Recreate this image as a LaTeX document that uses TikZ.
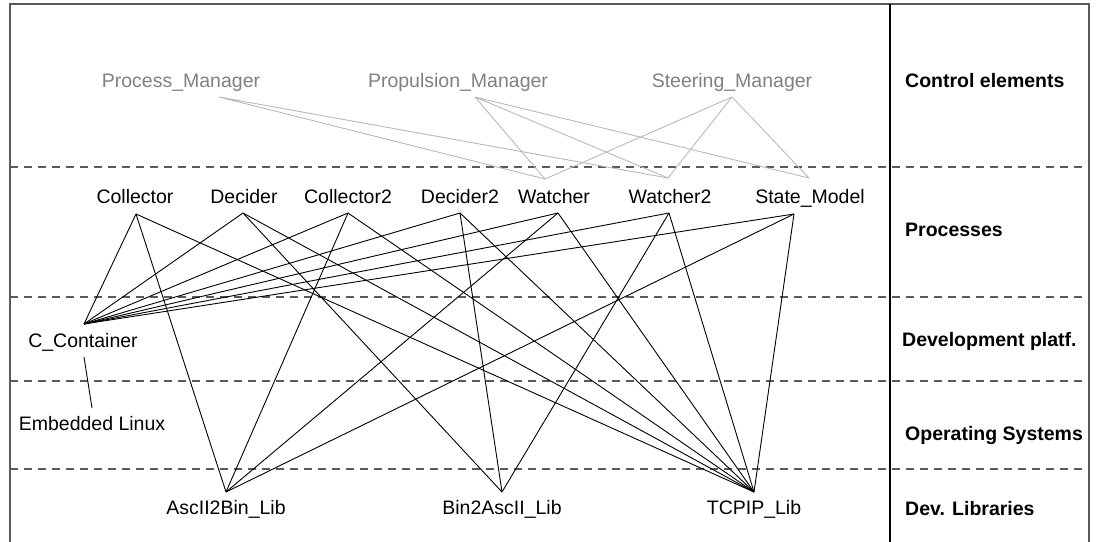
\documentclass[tikz,border=0pt]{standalone}
\usepackage{fontspec}
\setmainfont{Liberation Sans}
\begin{document}
\begin{tikzpicture}[x=1pt,y=-1pt,
  lbl/.style={inner sep=0pt,anchor=base,font=\fontsize{19.5}{23}\selectfont},
  ctl/.style={lbl,text={rgb,255:red,128;green,128;blue,128}},
  lay/.style={inner sep=0pt,anchor=base west,font=\fontsize{19.5}{23}\selectfont\bfseries},
  sep/.style={draw={rgb,255:red,90;green,90;blue,90},line width=1.3pt,dash pattern=on 8pt off 6pt},
  frm/.style={draw={rgb,255:red,90;green,90;blue,90},line width=1.6pt},
  gl/.style={draw={rgb,255:red,185;green,185;blue,185},line width=0.9pt},
  bl/.style={draw=black,line width=0.9pt}]
\useasboundingbox (0,0) rectangle (1098,541);
% frame
\draw[frm] (10,545) -- (10,4) -- (1089,4) -- (1089,545);
\draw[draw=black,line width=1.2pt] (890,4) -- (890,545);
% layer separators
\foreach \yy in {167,297,381,469} \draw[sep] (10,\yy) -- (1089,\yy);
% layer labels
\node[lay] (lc) at (905,87) {Control elements};
\node[lay] (lp) at (905,236) {Processes};
\node[lay] (ld) at (902,346) {Development platf.};
\node[lay] (lo) at (905,440) {Operating Systems};
\node[lay] (ll) at (905,515) {Dev. Libraries};
% control elements
\node[ctl] (pm) at (181,87) {Process\_Manager};
\node[ctl] (prm) at (458,87) {Propulsion\_Manager};
\node[ctl] (sm) at (732,87) {Steering\_Manager};
\coordinate (pmB) at (219,97);
\coordinate (prmB) at (475,97);
\coordinate (smB) at (732,97);
% processes
\node[lbl] (col) at (135,203) {Collector};
\node[lbl] (dec) at (244,203) {Decider};
\node[lbl] (col2) at (348,203) {Collector2};
\node[lbl] (dec2) at (460,203) {Decider2};
\node[lbl] (wat) at (554,203) {Watcher};
\node[lbl] (wat2) at (670,203) {Watcher2};
\node[lbl] (stm) at (810,203) {State\_Model};
\coordinate (colB) at (136,214);
\coordinate (decB) at (243,213);
\coordinate (col2B) at (348,213);
\coordinate (dec2B) at (460,213);
\coordinate (watB) at (558,213);
\coordinate (wat2B) at (669,213);
\coordinate (stmB) at (794,214);
\coordinate (watT) at (545,179);
\coordinate (wat2T) at (668,178);
\coordinate (stmT) at (809,178);
% platform and OS
\node[lbl] (cc) at (83,347) {C\_Container};
\node[lbl] (el) at (92,430) {Embedded Linux};
\coordinate (ccT) at (84,324);
\coordinate (ccB) at (84,357);
\coordinate (elT) at (92,408);
% libraries
\node[lbl] (a2b) at (226,514) {AscII2Bin\_Lib};
\node[lbl] (b2a) at (502,514) {Bin2AscII\_Lib};
\node[lbl] (tcp) at (754,514) {TCPIP\_Lib};
\coordinate (a2bT) at (226,492);
\coordinate (b2aT) at (502,492);
\coordinate (tcpT) at (754,492);
% control connectors
\draw[gl] (pmB) -- (watT) (pmB) -- (wat2T);
\draw[gl] (prmB) -- (watT) (prmB) -- (wat2T) (prmB) -- (stmT);
\draw[gl] (smB) -- (watT) (smB) -- (wat2T) (smB) -- (stmT);
% process connectors
\foreach \p in {colB,decB,col2B,dec2B,watB,wat2B,stmB} \draw[bl] (ccT) -- (\p);
\draw[bl] (ccB) -- (elT);
\foreach \p in {colB,col2B,watB,stmB} \draw[bl] (a2bT) -- (\p);
\foreach \p in {decB,dec2B,wat2B} \draw[bl] (b2aT) -- (\p);
\foreach \p in {colB,decB,col2B,dec2B,watB,wat2B,stmB} \draw[bl] (tcpT) -- (\p);
\end{tikzpicture}
\end{document}
